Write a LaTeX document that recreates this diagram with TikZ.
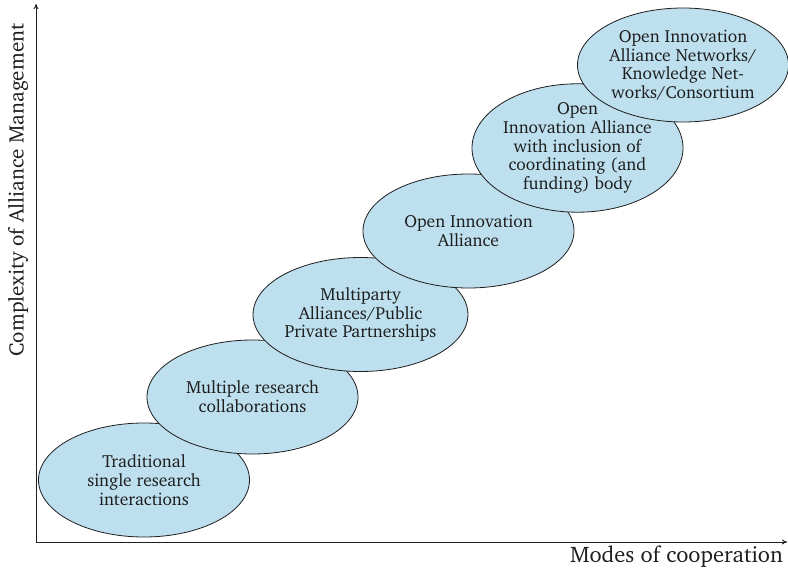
\documentclass[tikz,border=0pt]{standalone}
\usepackage[T1]{fontenc}
\usepackage{charter}
\usetikzlibrary{shapes.geometric,arrows.meta}
\definecolor{ellfill}{RGB}{189,223,238}
\definecolor{inkc}{RGB}{30,30,30}
\tikzset{
  stage/.style={ellipse, draw=inkc, line width=0.8bp, fill=ellfill, minimum width=211bp, minimum height=114bp, inner sep=0pt, align=center, text=inkc, font=\fontsize{17.5bp}{18.8bp}\selectfont},
  axis/.style={draw=inkc, line width=0.9bp, -{To[length=5bp,width=5bp]}},
  axislabel/.style={text=inkc, inner sep=0pt}
}
\begin{document}
\begin{tikzpicture}[x=1bp,y=-1bp]
\useasboundingbox (0,0) rectangle (788,569);
\coordinate (o) at (36,542);
\coordinate (ytop) at (36,4);
\coordinate (xend) at (787,542);
\draw[axis] (o) -- (ytop);
\draw[axis] (o) -- (xend);
\node[stage] (s1) at (144,480) {Traditional\\single research\\interactions};
\node[stage] (s2) at (252.5,397) {Multiple research\\collaborations};
\node[stage] (s3) at (360.5,314.5) {Multiparty\\Alliances/Public\\Private Partnerships};
\node[stage] (s4) at (468.5,231) {Open Innovation\\Alliance};
\node[stage] (s5) at (577.5,148) {Open\\Innovation Alliance\\with inclusion of\\coordinating (and\\funding) body};
\node[stage] (s6) at (683,65) {Open Innovation\\Alliance Networks/\\Knowledge Net-\\works/Consortium};
\node[axislabel, anchor=east, font=\fontsize{22.5bp}{26bp}\selectfont] (xl) at (783,557) {Modes of cooperation};
\node[axislabel, rotate=90, font=\fontsize{21bp}{25bp}\selectfont] (yl) at (18,190) {Complexity of Alliance Management};
\end{tikzpicture}
\end{document}
